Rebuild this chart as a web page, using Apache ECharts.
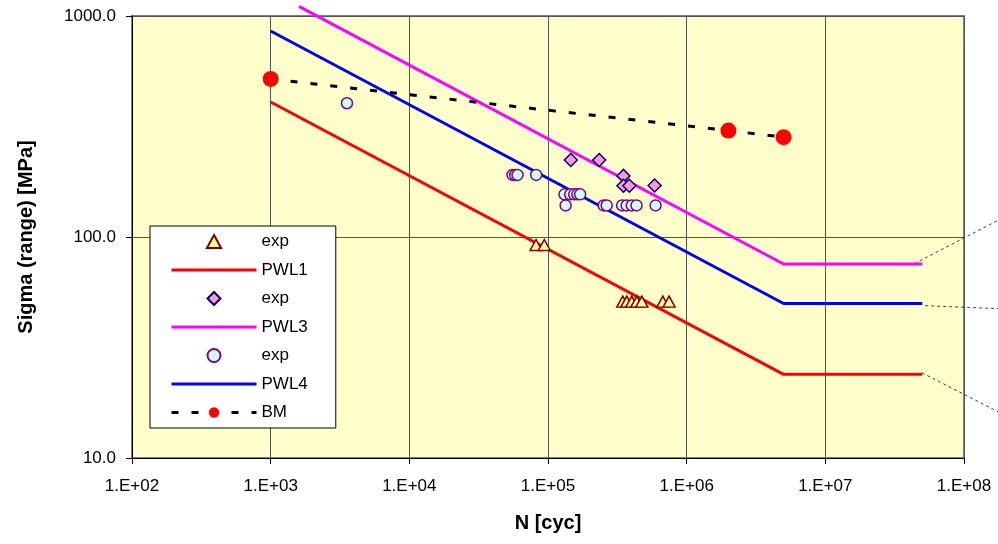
<!DOCTYPE html>
<html>
<head>
<meta charset="utf-8">
<script src="https://cdn.jsdelivr.net/npm/echarts@6/dist/echarts.min.js"></script>
<style>
html, body { margin: 0; padding: 0; background: #fff; }
#chart { width: 998px; height: 544px; }
</style>
</head>
<body>
<div id="chart"></div>
<script>
// exp points
var triN = [82000, 94000, 346000, 370000, 402000, 437000, 475000, 673000, 747000];
var triS = [92, 92, 51, 51, 51, 51, 51, 51, 51];
var diaN = [146000, 234000, 350000, 350000, 386000, 587000];
var diaS = [223, 223, 189, 170.5, 170.5, 171];
var cirN = [3550, 55500, 58000, 60300, 82200, 131500, 144500, 154500, 163000, 170600,
            134000, 252000, 265000, 342500, 369000, 402000, 435000, 597000];
var cirS = [403, 191, 191, 191, 191, 156, 156, 156, 156, 156,
            139, 139, 139, 139, 139, 139, 139, 139];

// design curves
var pwl1N = [1000, 5e6, 5e7];
var pwl1S = [408, 23.9, 23.9];
var pwl3N = [1600, 5e6, 5e7];
var pwl3S = [1106, 75.5, 75.5];
var pwl4N = [1000, 5e6, 5e7];
var pwl4S = [855, 50, 50];
var bmN = [1000, 2e6, 5e6];
var bmS = [519, 303, 283];

// leader lines to the (cut off) labels on the right
var lead3N = [4.36e7, 1.75e8];
var lead3S = [75.7, 118.9];
var lead4N = [5.23e7, 1.75e8];
var lead4S = [48.9, 47.4];
var lead1N = [4.95e7, 1.75e8];
var lead1S = [24.3, 16.2];

var legendNames = ['exp', 'PWL1', 'exp ', 'PWL3', 'exp  ', 'PWL4', 'BM'];
var lineOnly = ['PWL1', 'PWL3', 'PWL4'];
// built-in triangle/diamond stretch to the legend box, paths keep their aspect
var legendIcons = {
    'exp': 'path://M6,0L12,11L0,11Z',
    'exp ': 'path://M6,0L12,6L6,12L0,6Z'
};

function pairs(xs, ys) {
    var out = [];
    for (var i = 0; i < xs.length; i++) out.push([xs[i], ys[i]]);
    return out;
}

var font = 'Liberation Sans, Arial, sans-serif';

var chart = echarts.init(document.getElementById('chart'));

// leader lines live on a hidden copy of the axes that runs to the right edge
function leader(xs, ys) {
    return {
        type: 'line', data: pairs(xs, ys), symbol: 'none', clip: false, silent: true,
        xAxisIndex: 1, yAxisIndex: 1,
        lineStyle: { color: '#404040', width: 1, type: [3, 3] }, z: 1
    };
}

var option = {
    animation: false,
    grid: [
        {
            left: 132, right: 34, top: 16, bottom: 86,
            show: true, backgroundColor: '#FFFFCC', borderColor: '#808080', borderWidth: 2
        },
        { left: 132, right: 0, top: 16, bottom: 86 }
    ],
    legend: {
        data: legendNames.map(function (n) {
            var item = { name: n };
            if (lineOnly.indexOf(n) >= 0) item.itemStyle = { opacity: 0 };
            if (legendIcons[n]) item.icon = legendIcons[n];
            return item;
        }),
        orient: 'vertical',
        left: 150, top: 226,
        backgroundColor: '#fff', borderColor: '#000', borderWidth: 1,
        padding: [7, 28, 7, 20],
        itemWidth: 85, itemHeight: 13, itemGap: 11.5,
        symbolKeepAspect: true,
        selectedMode: false,
        lineStyle: { width: 3 },
        textStyle: { fontSize: 17, fontFamily: font, color: '#000' }
    },
    xAxis: [{
        type: 'log', logBase: 10, min: 100, max: 1e8, splitNumber: 6,
        name: 'N [cyc]', nameLocation: 'middle', nameGap: 55,
        nameTextStyle: { fontSize: 20, fontWeight: 'bold', fontFamily: font, color: '#000' },
        axisLine: { show: true, onZero: false, lineStyle: { color: '#000', width: 1 } },
        axisTick: { show: true, length: 6, lineStyle: { color: '#000' } },
        axisLabel: {
            margin: 20, fontSize: 17, fontFamily: font, color: '#000',
            showMinLabel: true, showMaxLabel: true,
            formatter: function (v) {
                var e = Math.round(Math.log10(v));
                return '1.E+' + (e < 10 ? '0' : '') + e;
            }
        },
        splitLine: { show: true, lineStyle: { color: '#555', width: 1 } }
    }, {
        type: 'log', logBase: 10, min: 100, max: 1.75e8, gridIndex: 1, show: false
    }],
    yAxis: [{
        type: 'log', logBase: 10, min: 10, max: 1000, splitNumber: 2,
        name: 'Sigma (range) [MPa]', nameLocation: 'middle', nameGap: 96,
        nameTextStyle: { fontSize: 20, fontWeight: 'bold', fontFamily: font, color: '#000' },
        axisLine: { show: true, lineStyle: { color: '#000', width: 1 } },
        axisTick: { show: true, length: 6, lineStyle: { color: '#000' } },
        axisLabel: {
            margin: 16, fontSize: 17, fontFamily: font, color: '#000',
            showMinLabel: true, showMaxLabel: true,
            formatter: function (v) { return v.toFixed(1); }
        },
        splitLine: { show: true, lineStyle: { color: '#555', width: 1 } }
    }, {
        type: 'log', logBase: 10, min: 10, max: 1000, gridIndex: 1, show: false
    }],
    series: [
        {
            name: 'exp', type: 'scatter', data: pairs(triN, triS),
            symbol: 'triangle', symbolSize: [12, 11], z: 4,
            itemStyle: { color: '#FFFF99', borderColor: '#800000', borderWidth: 1.5, opacity: 1 }
        },
        {
            name: 'PWL1', type: 'line', data: pairs(pwl1N, pwl1S), symbol: 'none',
            lineStyle: { color: '#FF0000', width: 3 }, itemStyle: { color: '#FF0000' }
        },
        {
            name: 'exp ', type: 'scatter', data: pairs(diaN, diaS),
            symbol: 'diamond', symbolSize: 13, z: 4,
            itemStyle: { color: '#FF99CC', borderColor: '#000080', borderWidth: 1.5, opacity: 1 }
        },
        {
            name: 'PWL3', type: 'line', data: pairs(pwl3N, pwl3S), symbol: 'none', clip: false,
            lineStyle: { color: '#FF00FF', width: 3 }, itemStyle: { color: '#FF00FF' }
        },
        {
            name: 'exp  ', type: 'scatter', data: pairs(cirN, cirS),
            symbol: 'circle', symbolSize: 11, z: 4,
            itemStyle: { color: '#CCFFFF', borderColor: '#800080', borderWidth: 1.5, opacity: 1 }
        },
        {
            name: 'PWL4', type: 'line', data: pairs(pwl4N, pwl4S), symbol: 'none',
            lineStyle: { color: '#0000FF', width: 3 }, itemStyle: { color: '#0000FF' }
        },
        {
            name: 'BM', type: 'line', data: pairs(bmN, bmS),
            symbol: 'circle', symbolSize: 16, showSymbol: true, z: 5,
            itemStyle: { color: '#FF0000' },
            lineStyle: { color: '#000', width: 3, type: [7, 13] }
        },
        leader(lead3N, lead3S),
        leader(lead4N, lead4S),
        leader(lead1N, lead1S)
    ]
};

chart.setOption(option);
</script>
</body>
</html>
